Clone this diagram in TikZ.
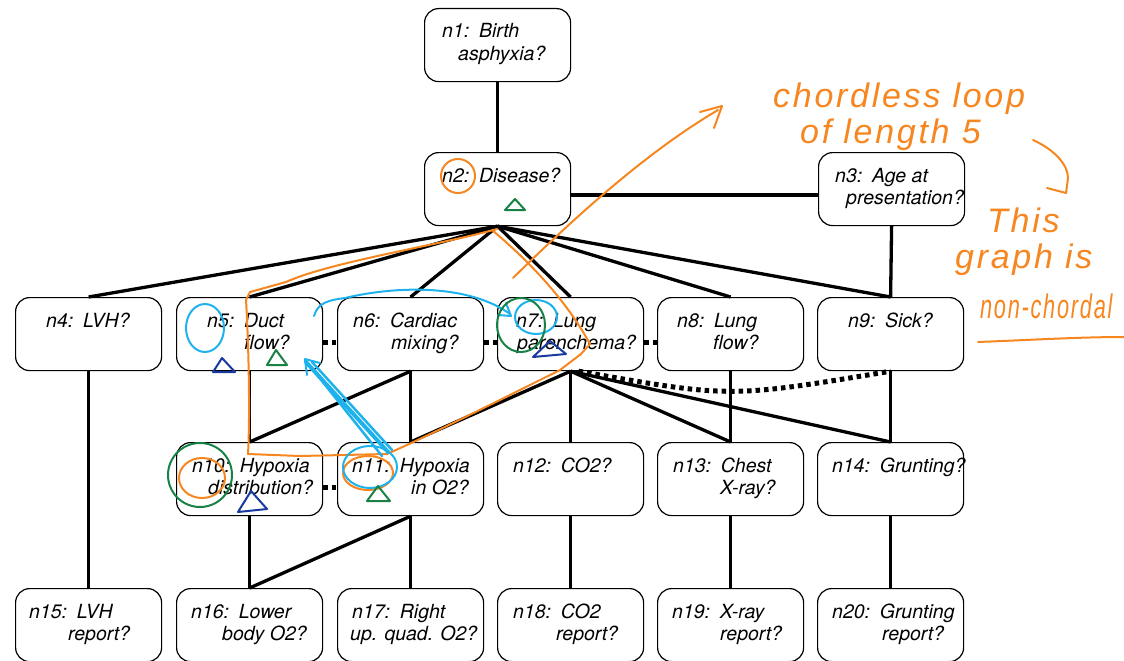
\documentclass[tikz,border=0pt]{standalone}
\usepackage{fontspec}
\setmainfont{TeX Gyre Heros}
\newfontfamily\handfont{Liberation Sans}[LetterSpace=8]
\usetikzlibrary{calc}
\definecolor{penorange}{RGB}{246,134,31}
\definecolor{pencyan}{RGB}{30,178,236}
\definecolor{pengreen}{RGB}{24,130,70}
\definecolor{pennavy}{RGB}{24,58,160}
\begin{document}
\begin{tikzpicture}[x=1pt,y=-1pt,
  qbox/.style={draw, line width=1.2pt, rounded corners=14pt, minimum width=146pt,
               minimum height=73pt, inner sep=0pt, anchor=north west},
  qtxt/.style={anchor=base west, inner sep=0pt, font=\fontsize{19.5}{22}\selectfont\itshape},
  link/.style={line width=3.3pt},
  dotlink/.style={line width=5pt, dash pattern=on 4.5pt off 4pt},
  ink/.style={line width=2pt, line cap=round, line join=round},
  hand/.style={anchor=base west, inner sep=0pt, text=penorange,
               font=\handfont\itshape\fontsize{34}{38}\selectfont}]
\useasboundingbox (0,0) rectangle (1124,661);

% ---------- question boxes ----------
\node[qbox] (n1)  at (424,8)   {};
\node[qbox] (n2)  at (424,152) {};
\node[qbox] (n3)  at (818,152) {};
\foreach \n/\x in {n4/15,n5/176,n6/337,n7/497,n8/657,n9/817}
  \node[qbox] (\n) at (\x,297) {};
\foreach \n/\x in {n10/176,n11/337,n12/497,n13/657,n14/817}
  \node[qbox] (\n) at (\x,442) {};
\foreach \n/\x in {n15/15,n16/176,n17/337,n18/497,n19/657,n20/817}
  \node[qbox] (\n) at (\x,588) {};

% ---------- box texts ----------
\node[qtxt] (n1a) at (442,38) {n1:\enspace Birth};
\node[qtxt] (n1b) at (458,60) {asphyxia?};
\node[qtxt] (n2a) at (442,182) {n2:\enspace Disease?};
\node[qtxt] (n3a) at (835,182) {n3:\enspace Age at};
\node[qtxt] (n3b) at (846,204) {presentation?};
\node[qtxt] (n4a) at (46,327) {n4:\enspace LVH?};
\node[qtxt] (n5a) at (207,327) {n5:\enspace Duct};
\node[qtxt] (n5b) at (244,349) {flow?};
\node[qtxt] (n6a) at (353,327) {n6:\enspace Cardiac};
\node[qtxt] (n6b) at (391,349) {mixing?};
\node[qtxt] (n7a) at (516,327) {n7:\enspace Lung};
\node[qtxt] (n7b) at (517,349) {parenchema?};
\node[qtxt] (n8a) at (677,327) {n8:\enspace Lung};
\node[qtxt] (n8b) at (713,349) {flow?};
\node[qtxt] (n9a) at (848,327) {n9:\enspace Sick?};
\node[qtxt] (n10a) at (192,472) {n10:\enspace Hypoxia};
\node[qtxt] (n10b) at (208,494) {distribution?};
\node[qtxt] (n11a) at (352,472) {n11:\enspace Hypoxia};
\node[qtxt] (n11b) at (411,494) {in O2?};
\node[qtxt] (n12a) at (513,472) {n12:\enspace CO2?};
\node[qtxt] (n13a) at (673,472) {n13:\enspace Chest};
\node[qtxt] (n13b) at (720,494) {X-ray?};
\node[qtxt] (n14a) at (832,472) {n14:\enspace Grunting?};
\node[qtxt] (n15a) at (29,618) {n15:\enspace LVH};
\node[qtxt] (n15b) at (68,640) {report?};
\node[qtxt] (n16a) at (191,618) {n16:\enspace Lower};
\node[qtxt] (n16b) at (222,640) {body O2?};
\node[qtxt] (n17a) at (352,618) {n17:\enspace Right};
\node[qtxt] (n17b) at (350,640) {up. quad. O2?};
\node[qtxt] (n18a) at (513,618) {n18:\enspace CO2};
\node[qtxt] (n18b) at (556,640) {report?};
\node[qtxt] (n19a) at (672,618) {n19:\enspace X-ray};
\node[qtxt] (n19b) at (720,640) {report?};
\node[qtxt] (n20a) at (832,618) {n20:\enspace Grunting};
\node[qtxt] (n20b) at (882,640) {report?};

% ---------- solid links ----------
\draw[link] (n1.south) -- (n2.north);
\draw[link] ([yshift=-6pt]n2.east) -- ([yshift=-6pt]n3.west);
\draw[link] (n3.south) -- (n9.north);
\foreach \t in {n4,n5,n6,n7,n8,n9}
  \draw[link] (n2.south) -- (\t.north);
\draw[link] (n4.south) -- (n15.north);
\draw[link] (n5.south) -- (n10.north);
\draw[link] (n6.south) -- (n10.north);
\draw[link] (n6.south) -- (n11.north);
\foreach \t in {n11,n12,n13,n14}
  \draw[link] (n7.south) -- (\t.north);
\draw[link] (n8.south) -- (n13.north);
\draw[link] (n9.south) -- (n14.north);
\draw[link] (n10.south) -- (n16.north);
\draw[link] (n11.south) -- (n16.north);
\draw[link] (n11.south) -- (n17.north);
\draw[link] (n12.south) -- (n18.north);
\draw[link] (n13.south) -- (n19.north);
\draw[link] (n14.south) -- (n20.north);

% ---------- dotted links ----------
\draw[dotlink] ([yshift=-8pt]n5.east) -- ([yshift=-8pt]n6.west);
\draw[dotlink] ([yshift=-8pt]n6.east) -- ([yshift=-8pt]n7.west);
\draw[dotlink] ([yshift=-8pt]n7.east) -- ([yshift=-8pt]n8.west);
\draw[dotlink] ([yshift=-8pt]n10.east) -- ([yshift=-8pt]n11.west);
\draw[dotlink] ([xshift=8pt]n7.south) .. controls (730,398) .. (n9.south);

% ---------- pen notes: orange ----------
\draw[ink,penorange] (497,229) .. controls (440,245) and (330,262) .. (286,282)
  -- (250,292) -- (246,300) .. controls (249,350) and (250,420) .. (248,454)
  -- (300,456) -- (387,454) .. controls (430,435) and (500,400) .. (560,370) -- (581,354);
\draw[ink,penorange] (492,230) .. controls (530,262) and (566,300) .. (590,344) -- (580,355);
\draw[ink,penorange] (513,278) .. controls (580,212) and (650,150) .. (718,110);
\draw[ink,penorange] (700,112) -- (722,106) -- (714,128);
\draw[ink,penorange] (458,176) ellipse [x radius=17, y radius=17];
\draw[ink,penorange] (202,478) ellipse [x radius=23, y radius=20];
\draw[ink,penorange] (368,473) ellipse [x radius=25, y radius=17];
\node[hand] (h1) at (773,107) {chordless loop};
\node[hand] (h2) at (800,143) {of length 5};
\draw[ink,penorange] (1033,140) .. controls (1055,150) and (1068,165) .. (1068,178)
  -- (1066,193) -- (1047,188);
\node[hand] (h3) at (987,232) {This};
\node[hand] (h4) at (955,268) {graph is};
\node[hand, transform shape, xscale=0.64] (h5) at (980,318) {non-chordal};
\draw[ink,penorange] (978,342) .. controls (1030,340) and (1080,337) .. (1124,337);

% ---------- pen notes: cyan ----------
\draw[ink,pencyan] (205,328) ellipse [x radius=19, y radius=24];
\draw[ink,pencyan] (314,316) .. controls (318,302) and (330,300) .. (345,298)
  .. controls (400,285) and (470,285) .. (510,314);
\draw[ink,pencyan] (498,315) -- (511,316) -- (506,303);
\draw[ink,pencyan] (536,317) ellipse [x radius=21, y radius=17];
\draw[pencyan, line width=4pt, line cap=round] (388,452) -- (306,362);
\draw[pencyan, line width=2.5pt, line cap=round] (382,456) -- (310,366) (392,450) -- (312,362);
\draw[ink,pencyan] (320,363) -- (305,359) -- (307,375);
\draw[ink,pencyan] (370,467) ellipse [x radius=27, y radius=21];

% ---------- pen notes: green ----------
\draw[ink,pengreen] (505,210) -- (515,199) -- (525,210) -- cycle;
\draw[ink,pengreen] (267,365) -- (276,350) -- (287,365) -- cycle;
\draw[ink,pengreen] (367,501) -- (378,486) -- (390,501) -- cycle;
\draw[ink,pengreen] (521,325) ellipse [x radius=24, y radius=27];
\draw[ink,pengreen] (200,475) ellipse [x radius=32, y radius=32];

% ---------- pen notes: navy ----------
\draw[ink,pennavy] (213,372) -- (222,358) -- (235,372) -- cycle;
\draw[ink,pennavy] (533,357) -- (550,341) -- (566,354) -- cycle;
\draw[ink,pennavy] (238,512) -- (251,491) -- (267,509) -- cycle;
\end{tikzpicture}
\end{document}
